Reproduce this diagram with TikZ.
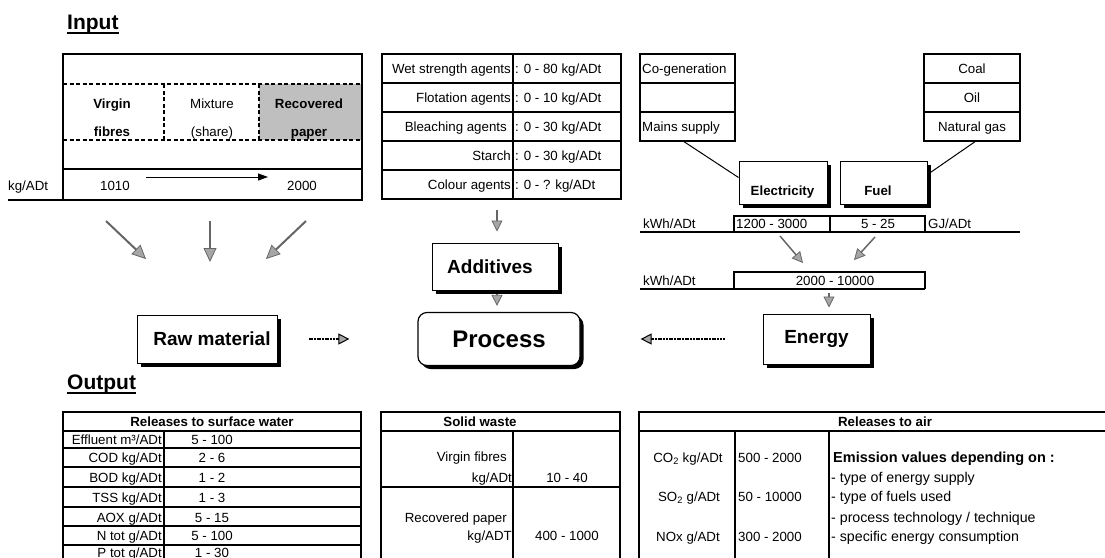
\documentclass[tikz,border=0pt]{standalone}
\usepackage{fontspec}
\setmainfont{Liberation Sans}
\usetikzlibrary{arrows.meta,shadows}
\newcommand{\fsz}[1]{\fontsize{#1}{#1}\selectfont}
\begin{document}
\begin{tikzpicture}[x=1pt,y=-1pt,
  f/.style={font=\fsz{13.3}, inner sep=0pt, text height=9.6pt, text depth=0.6pt},
  fb/.style={font=\bfseries\fsz{13.3}, inner sep=0pt, text height=9.6pt, text depth=0.6pt},
  fl/.style={font=\fsz{14.2}, inner sep=0pt, text height=10.2pt, text depth=0.6pt, anchor=west},
  ttl/.style={font=\bfseries\fsz{21}, inner sep=0pt, anchor=base west},
  tl/.style={line width=1.8pt},
  tn/.style={line width=1.4pt},
  shbox/.style={draw, line width=1pt, fill=white, inner sep=0pt,
    drop shadow={shadow xshift=3.5pt, shadow yshift=-3.5pt, fill=black, opacity=1}},
  big/.style={shbox, font=\bfseries\fsz{19}},
  garrow/.style={draw=black!60, line width=2pt,
    -{Triangle[length=14pt, width=13pt, fill=black!35, color=black!60, line width=0.8pt]}},
  sgarrow/.style={draw=black!60, line width=1.5pt,
    -{Triangle[length=11pt, width=11pt, fill=black!35, color=black!60, line width=0.8pt]}},
  darrow/.style={draw=black, line width=1.8pt, dash pattern=on 2pt off 0.7pt,
    -{Triangle[length=11pt, width=11pt, fill=black!35, color=black, line width=1pt]}},
]
\useasboundingbox (0,0) rectangle (1105,557);
\clip (0,0) rectangle (1105,557);

% ---------- Input title ----------
\node[ttl] (intitle) at (67,29) {Input};
\draw[line width=2pt] ([yshift=-3.5pt]intitle.base west) -- ([yshift=-3.5pt]intitle.base east);

% ---------- Fibre box ----------
\fill[gray!50] (259,84) rectangle (362,140);
\draw[line width=1.5pt, dash pattern=on 4pt off 2.5pt]
  (63,84) -- (362,84) (63,140) -- (362,140) (164,84) -- (164,140) (259,84) -- (259,140);
\draw[tl] (63,54) rectangle (362,200);
\draw[tl] (63,169) -- (362,169);
\draw[tl] (8,200) -- (63,200);
\node[fb] at (112,104) {Virgin};
\node[fb] at (112,132) {fibres};
\node[f] at (212,104) {Mixture};
\node[f] at (212,132) {(share)};
\node[fb] at (309,104) {Recovered};
\node[fb] at (309,132) {paper};
\coordinate (ka) at (146,177);
\coordinate (kb) at (268,177);
\draw[line width=1pt, -{Triangle[length=10pt,width=7pt]}] (ka) -- (kb);
\node[f, anchor=west] at (8,186) {kg/ADt};
\node[f] at (115,186) {1010};
\node[f] at (302,186) {2000};

% ---------- Additives table ----------
\draw[tl] (382,54) rectangle (621,199);
\foreach \yy in {83,112,141,170} \draw[tn] (382,\yy) -- (621,\yy);
\draw[tn] (513,54) -- (513,199);
\node[f, anchor=east] at (511,68.5) {Wet strength agents};
\node[f, anchor=east] at (511,97.5) {Flotation agents};
\node[f, anchor=east] at (507,126.5) {Bleaching agents};
\node[f, anchor=east] at (511,155.5) {Starch};
\node[f, anchor=east] at (511,184.5) {Colour agents};
\node[f, anchor=west] at (515,68.5) {: 0 - 80 kg/ADt};
\node[f, anchor=west] at (515,97.5) {: 0 - 10 kg/ADt};
\node[f, anchor=west] at (515,126.5) {: 0 - 30 kg/ADt};
\node[f, anchor=west] at (515,155.5) {: 0 - 30 kg/ADt};
\node[f, anchor=west] at (515,184.5) {: 0 - ? kg/ADt};

% ---------- Energy supply tables ----------
\draw[tl] (640,54) rectangle (735,141);
\draw[tl] (640,83) -- (735,83) (640,112) -- (735,112);
\node[f, anchor=west] at (642,68.5) {Co-generation};
\node[f, anchor=west] at (642,126.5) {Mains supply};
\draw[tl] (924,54) rectangle (1020,141);
\draw[tl] (924,83) -- (1020,83) (924,112) -- (1020,112);
\node[f] at (972,68.5) {Coal};
\node[f] at (972,97.5) {Oil};
\node[f] at (972,126.5) {Natural gas};

\node[shbox, minimum width=88pt, minimum height=43pt] (elec) at (783,182.5) {};
\node[fb] at (782.5,191) {Electricity};
\node[shbox, minimum width=87pt, minimum height=43pt] (fuel) at (883.5,182.5) {};
\node[fb] at (878,191) {Fuel};
\coordinate (mainsb) at (683,141);
\coordinate (gasb) at (976,141);
\draw[line width=1pt] (mainsb) -- ([yshift=5pt]elec.west);
\draw[line width=1pt] (gasb) -- ([yshift=8pt]fuel.east);

% row 1
\node[f, anchor=west] at (643,223.5) {kWh/ADt};
\draw[tl] (734,232) |- (925,216) -- (925,232);
\draw[tl] (830,216) -- (830,232);
\draw[tl] (640,232) -- (1020,232);
\node[f, anchor=west] at (736,224) {1200 - 3000};
\node[f] at (878,224) {5 - 25};
\node[f, anchor=west] at (928,224) {GJ/ADt};
\coordinate (e1a) at (780,236);
\coordinate (e1b) at (803,263);
\coordinate (e2a) at (875,237);
\coordinate (e2b) at (854,260);
\draw[sgarrow] (e1a) -- (e1b);
\draw[sgarrow] (e2a) -- (e2b);

% row 2
\node[f, anchor=west] at (643,281) {kWh/ADt};
\draw[tl] (734,289) |- (925,272) -- (925,289);
\draw[tl] (640,289) -- (925,289);
\node[f] at (835,281) {2000 - 10000};
\coordinate (row2b) at (829,289);

% ---------- Main flow ----------
\node[big, minimum width=140pt, minimum height=48pt] (raw) at (207,339) {\hspace*{10pt}Raw material};
\node[shbox, rounded corners=9pt, line width=1.2pt, minimum width=162pt, minimum height=53pt,
      font=\bfseries\fsz{24}] (process) at (499,339) {Process};
\node[big, minimum width=107pt, minimum height=50pt] (energy) at (816.5,339) {Energy};
\node[big, minimum width=126pt, minimum height=47pt] (additives) at (495,266.5) {Additives\hspace*{10pt}};

\coordinate (addtabb) at (497,199);
\draw[sgarrow, shorten <=11pt, shorten >=11pt] (addtabb) -- ([xshift=2pt]additives.north);
\draw[sgarrow, shorten <=3pt, shorten >=6pt] ([xshift=2pt]additives.south) -- ([xshift=-2pt]process.north);
\draw[sgarrow, shorten <=4pt, shorten >=6pt] (row2b) -- (energy.north -| row2b);
\draw[darrow, shorten <=31pt, shorten >=68pt] (raw) -- (process);
\draw[darrow, shorten <=38pt, shorten >=60pt] (energy) -- (process);

\coordinate (fa1) at (106,221); \coordinate (fb1) at (146,259);
\coordinate (fa2) at (210,221); \coordinate (fb2) at (210,262);
\coordinate (fa3) at (306,221); \coordinate (fb3) at (266,259);
\draw[garrow] (fa1) -- (fb1);
\draw[garrow] (fa2) -- (fb2);
\draw[garrow] (fa3) -- (fb3);

% ---------- Output ----------
\node[ttl] (outtitle) at (67,389) {Output};
\draw[line width=2pt] ([yshift=-3.5pt]outtitle.base west) -- ([yshift=-3.5pt]outtitle.base east);

% surface water
\draw[tl] (63,412) rectangle (361,575);
\draw[tl] (63,431) -- (361,431);
\foreach \yy in {448,467,487,507,526,545} \draw[tl] (63,\yy) -- (361,\yy);
\draw[tl] (164,431) -- (164,575);
\node[fb] at (212,422) {Releases to surface water};
\node[f, anchor=east] at (162,440) {Effluent m³/ADt};
\node[f, anchor=east] at (162,458) {COD kg/ADt};
\node[f, anchor=east] at (162,478) {BOD kg/ADt};
\node[f, anchor=east] at (162,498) {TSS kg/ADt};
\node[f, anchor=east] at (162,518) {AOX g/ADt};
\node[f, anchor=east] at (162,536) {N tot g/ADt};
\node[f, anchor=east] at (162,553) {P tot g/ADt};
\node[f] at (212,440) {5 - 100};
\node[f] at (212,458) {2 - 6};
\node[f] at (212,478) {1 - 2};
\node[f] at (212,498) {1 - 3};
\node[f] at (212,518) {5 - 15};
\node[f] at (212,536) {5 - 100};
\node[f] at (212,553) {1 - 30};

% solid waste
\draw[tl] (381,412) rectangle (620,575);
\draw[tl] (381,431) -- (620,431);
\draw[tl] (513,431) -- (513,575);
\draw[tl] (381,487) -- (620,487);
\node[fb] at (480,422) {Solid waste};
\node[f, anchor=east] at (507,457) {Virgin fibres};
\node[f, anchor=east] at (512,478) {kg/ADt};
\node[f] at (567,478) {10 - 40};
\node[f, anchor=east] at (507,518) {Recovered paper};
\node[f, anchor=east] at (512,536) {kg/ADT};
\node[f] at (567,536) {400 - 1000};

% air
\draw[tl] (639,412) rectangle (1130,575);
\draw[tl] (639,431) -- (1130,431);
\draw[tl] (735,431) -- (735,575);
\draw[tl] (829,431) -- (829,575);
\node[fb] at (885,422) {Releases to air};
\node[f] at (688,458) {CO\textsubscript{2} kg/ADt};
\node[f] at (689,497) {SO\textsubscript{2} g/ADt};
\node[f] at (688,537) {NOx g/ADt};
\node[f, anchor=west] at (738,458) {500 - 2000};
\node[f, anchor=west] at (738,497) {50 - 10000};
\node[f, anchor=west] at (738,537) {300 - 2000};
\node[fl, font=\bfseries\fsz{14.5}] at (833,458) {Emission values depending on :};
\node[fl] at (831,478) {- type of energy supply};
\node[fl] at (831,497) {- type of fuels used};
\node[fl] at (831,518) {- process technology / technique};
\node[fl] at (831,537) {- specific energy consumption};
\end{tikzpicture}
\end{document}
